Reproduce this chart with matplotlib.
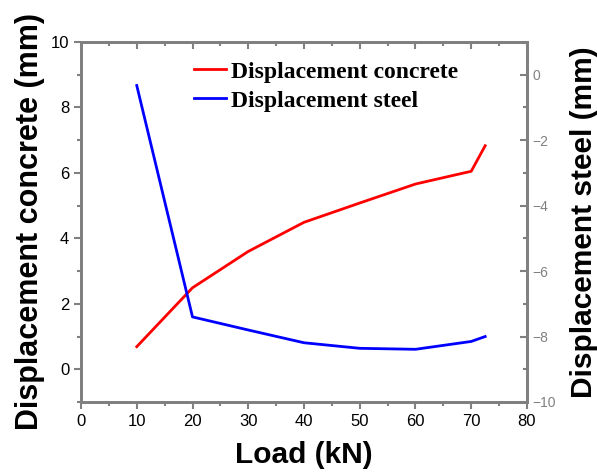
import numpy as np
import matplotlib
matplotlib.use("Agg")
import matplotlib.pyplot as plt
from matplotlib.ticker import MultipleLocator

# data
load = [10, 20, 30, 40, 50, 60, 70, 72.5]
disp_concrete = [0.69, 2.49, 3.6, 4.49, 5.08, 5.66, 6.05, 6.83]
disp_steel = [-0.33, -7.40, -7.80, -8.19, -8.36, -8.39, -8.15, -8.0]

plt.rcParams['font.family'] = ['Liberation Sans', 'DejaVu Sans']
gray = '#808080'

fig = plt.figure(figsize=(5.97, 4.75), dpi=100)
ax = fig.add_axes([0.1357, 0.1537, 0.747, 0.7579])
ax2 = ax.twinx()

l1, = ax.plot(load, disp_concrete, color='red', lw=2, label='Displacement concrete')
l2, = ax2.plot(load, disp_steel, color='blue', lw=2, label='Displacement steel')

ax.set_xlim(0, 80)
ax.set_ylim(-1, 10)
ax2.set_ylim(-10, 1)

ax.xaxis.set_major_locator(MultipleLocator(10))
ax.xaxis.set_minor_locator(MultipleLocator(5))
ax.yaxis.set_major_locator(MultipleLocator(2))
ax.yaxis.set_minor_locator(MultipleLocator(1))
ax2.yaxis.set_major_locator(MultipleLocator(2))
ax2.yaxis.set_minor_locator(MultipleLocator(1))

for a in (ax, ax2):
    for s in a.spines.values():
        s.set_color(gray)
        s.set_linewidth(2)

ax.tick_params(axis='both', which='both', color=gray, width=1.5, labelsize=12,
               labelcolor='black', direction='out', top=False)
ax.tick_params(axis='both', which='major', length=5)
ax.tick_params(axis='both', which='minor', length=3)

ax2.tick_params(axis='y', which='both', direction='in', color=gray, width=1.5,
                labelsize=10, labelcolor=gray, pad=4)
ax2.tick_params(axis='y', which='major', length=5)
ax2.tick_params(axis='y', which='minor', length=3)

# top spine ticks point inward
top = ax.secondary_xaxis('top')
top.xaxis.set_major_locator(MultipleLocator(10))
top.xaxis.set_minor_locator(MultipleLocator(5))
top.tick_params(which='both', direction='in', color=gray, width=1.5, labeltop=False)
top.tick_params(which='major', length=5)
top.tick_params(which='minor', length=3)
top.spines['top'].set_color(gray)
top.spines['top'].set_linewidth(2)

ax.set_xlabel('Load (kN)', fontsize=21.5, fontweight='bold', labelpad=9)
ax.set_ylabel('Displacement concrete (mm)', fontsize=22, fontweight='bold', labelpad=4)
ax2.set_ylabel('Displacement steel (mm)', fontsize=21.5, fontweight='bold', labelpad=10)

ax.legend(handles=[l1, l2], loc='upper left', bbox_to_anchor=(0.205, 1.006),
          frameon=False, prop={'family': 'Liberation Serif', 'weight': 'bold', 'size': 17},
          handlelength=1.35, handletextpad=0.25, labelspacing=0.32)

fig.savefig('out.png', dpi=100)
